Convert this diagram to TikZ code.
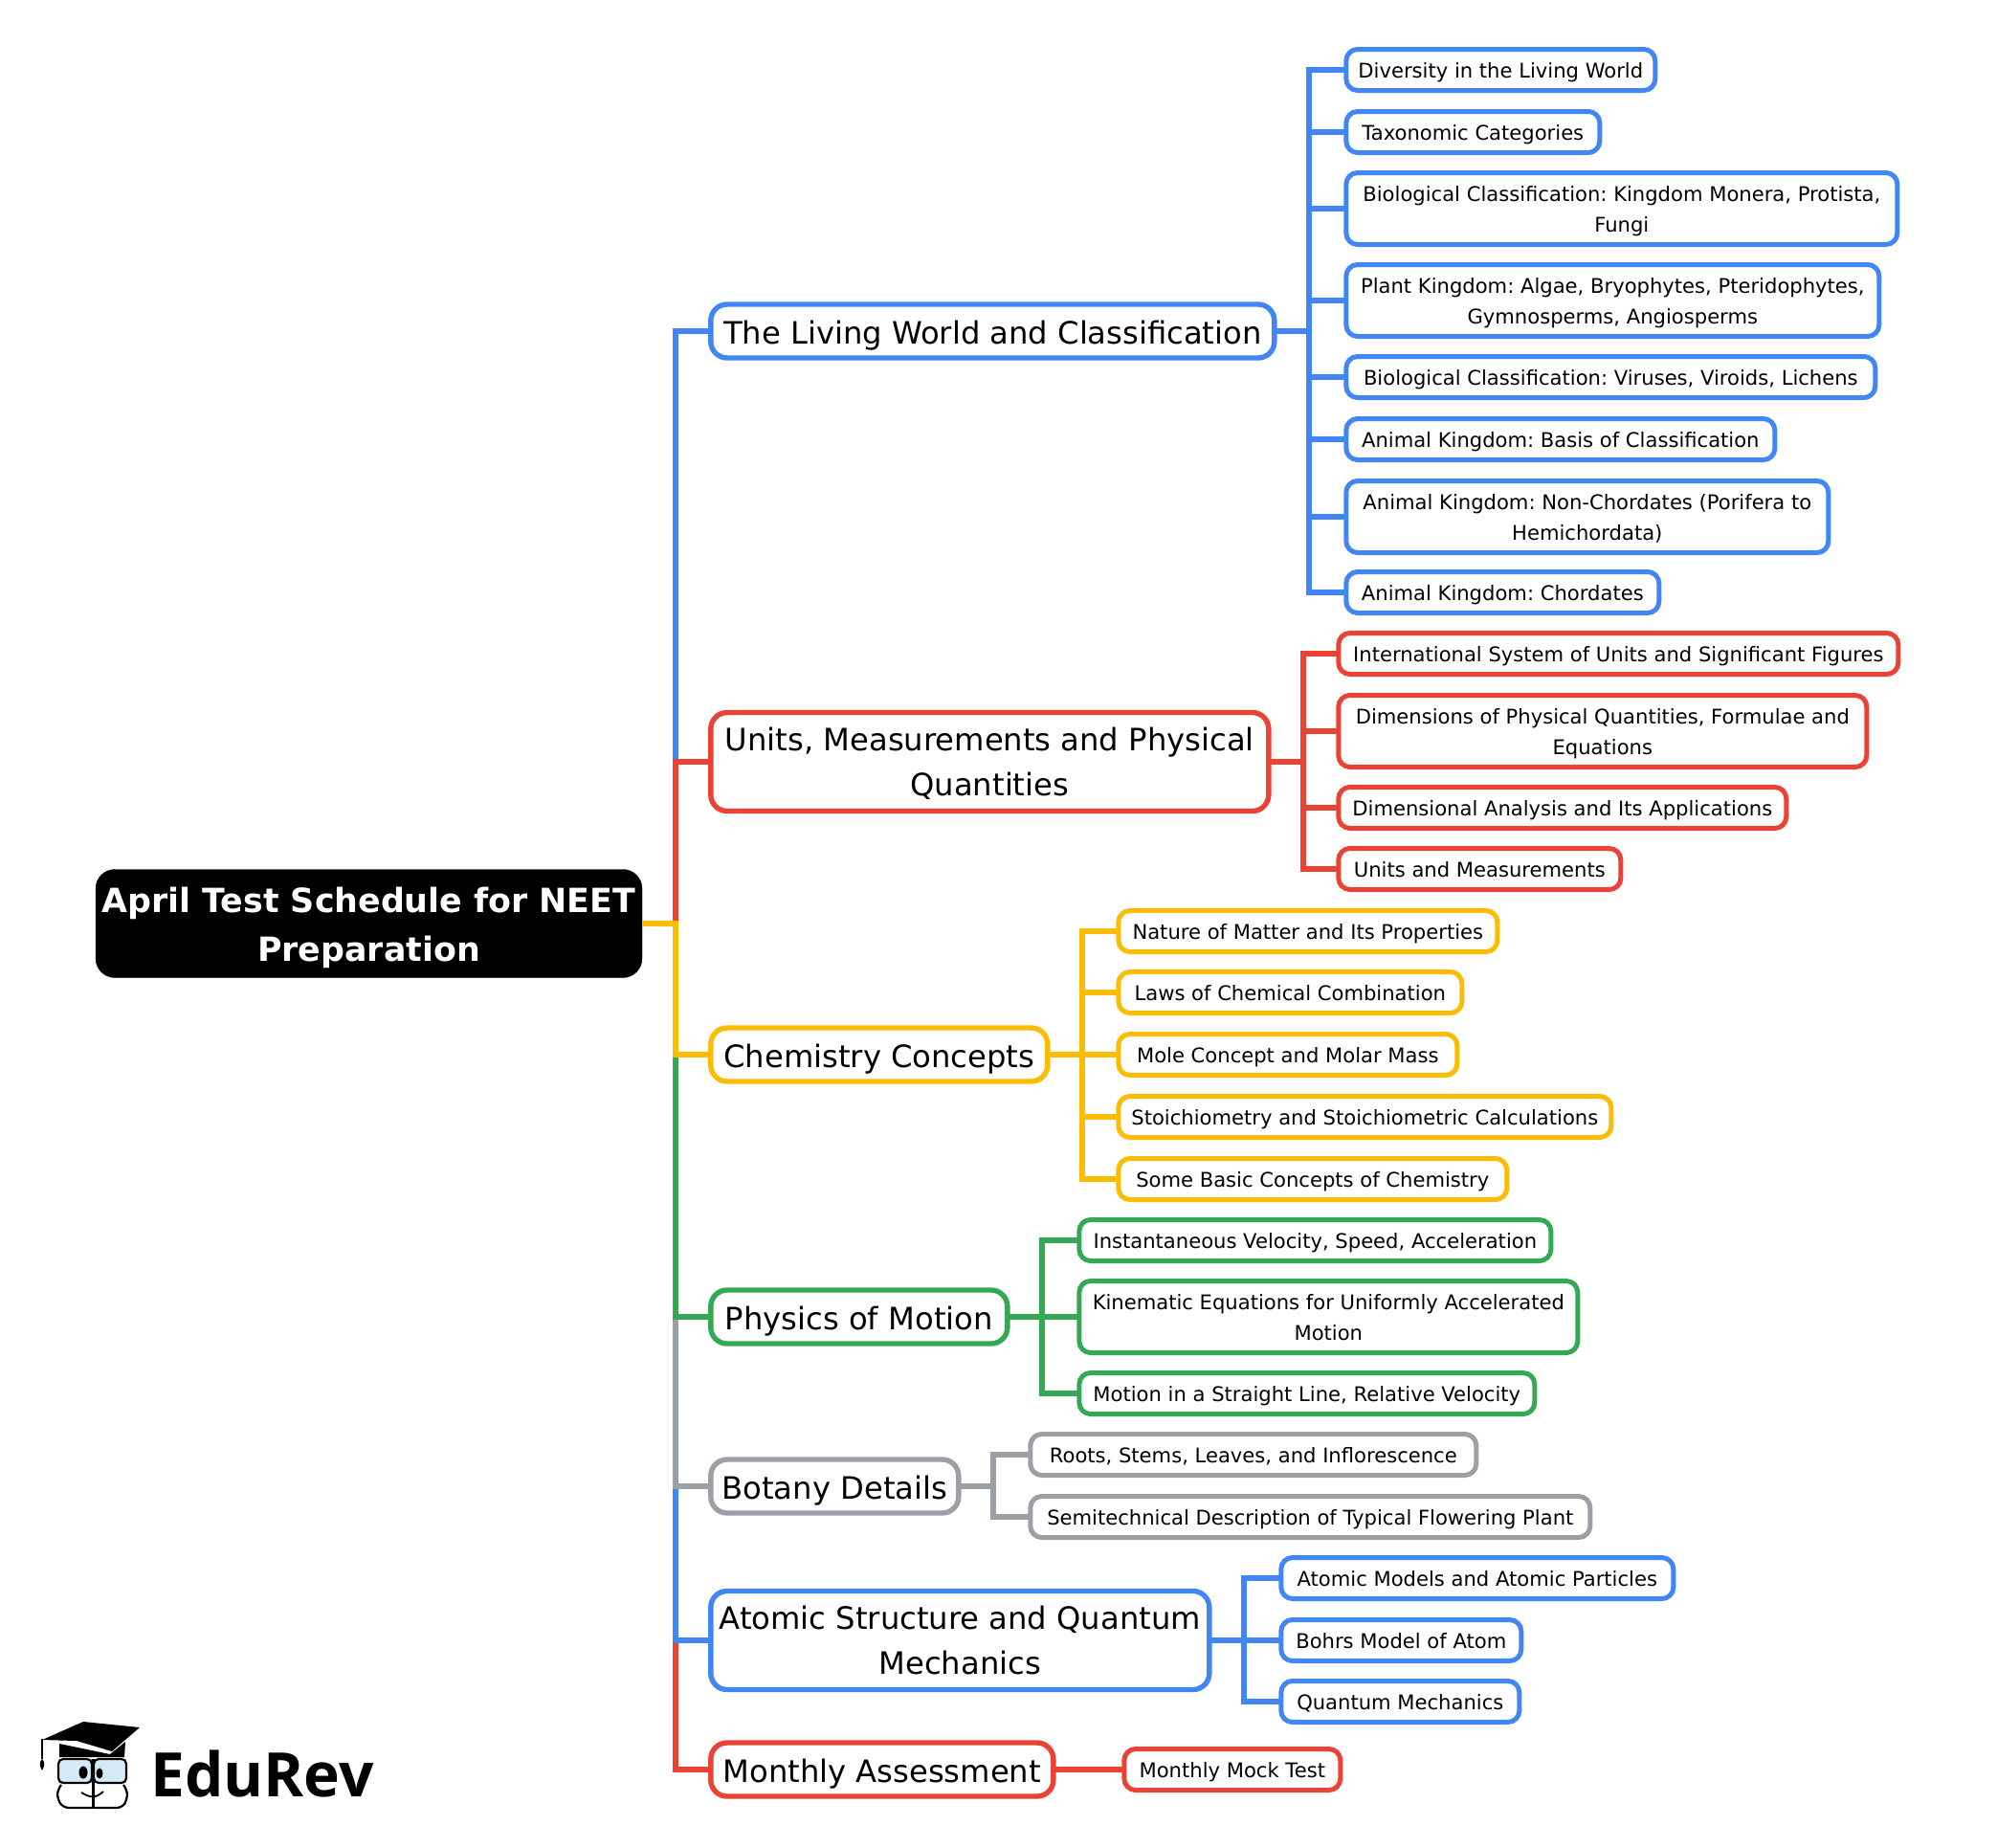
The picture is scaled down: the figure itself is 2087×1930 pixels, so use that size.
\documentclass[tikz,border=0pt]{standalone}
\usepackage{fontspec}
\setmainfont{DejaVu Sans}
\newfontfamily\logofont{Open Sans}
\usetikzlibrary{positioning}
\definecolor{mapblue}{HTML}{4285F4}
\definecolor{mapred}{HTML}{EA4335}
\definecolor{mapyellow}{HTML}{FBBC04}
\definecolor{mapgreen}{HTML}{34A853}
\definecolor{mapgray}{HTML}{9AA0A6}
\definecolor{lens}{HTML}{D5EAF7}
\tikzset{
	x=1pt, y=-1pt, % picture coordinates are the pixels of the page
	textrow/.style 2 args={execute at begin node={\rule[-#1]{0pt}{\dimexpr#1+#2\relax}}, execute at end node={\rule[-#1]{0pt}{\dimexpr#1+#2\relax}}}, % same baseline in every box
	tworow/.style={execute at begin node={\rule{0pt}{#1}}}, % height of a box with two rows
	rootbox/.style={draw=black, fill=black, text=white, rounded corners=20pt, minimum width=571pt, minimum height=113pt, inner sep=0pt, outer sep=0pt, align=center, anchor=west, textrow={13pt}{37.6pt}, tworow=91pt, font=\fontsize{34.8}{51}\selectfont\bfseries\frenchspacing},
	topic/.style={draw=#1, fill=white, line width=5.4pt, rounded corners=17pt, minimum height=56pt, inner sep=0pt, outer sep=0pt, xshift=0.8pt, align=center, anchor=west, textrow={10pt}{36.4pt}, font=\fontsize{32.2}{47}\selectfont\frenchspacing},
	leaf/.style={draw=#1, fill=white, line width=5pt, rounded corners=12pt, minimum height=43pt, inner sep=0pt, outer sep=0pt, xshift=0.8pt, align=center, anchor=west, textrow={8pt}{24.6pt}, font=\fontsize{21.1}{32}\selectfont\frenchspacing},
	link/.style={draw=#1, line width=5.4pt},
}
\begin{document}
\begin{tikzpicture}
	\useasboundingbox (0,0) rectangle (2087,1930);
	% root and topics
	\node[rootbox] at (100,965) (root) {April Test Schedule for NEET\\Preparation};
	\node[topic=mapblue, minimum width=589pt] at (742,346) (living) {The Living World and Classification};
	\node[topic=mapred, tworow=81pt, minimum width=583pt, minimum height=103pt] at (742,796) (units) {Units, Measurements and Physical\\Quantities};
	\node[topic=mapyellow, minimum width=352pt] at (742,1102) (chem) {Chemistry Concepts};
	\node[topic=mapgreen, minimum width=310pt] at (742,1376) (motion) {Physics of Motion};
	\node[topic=mapgray, minimum width=259pt] at (742,1553) (botany) {Botany Details};
	\node[topic=mapblue, tworow=81pt, minimum width=521pt, minimum height=103pt] at (742,1714) (atomic) {Atomic Structure and Quantum\\Mechanics};
	\node[topic=mapred, minimum width=358pt] at (742,1849) (monthly) {Monthly Assessment};
	% living world
	\node[leaf=mapblue, minimum width=323pt] at (1406,73) (living1) {Diversity in the Living World};
	\node[leaf=mapblue, minimum width=265pt] at (1406,138) (living2) {Taxonomic Categories};
	\node[leaf=mapblue, tworow=57pt, minimum width=576pt, minimum height=75pt] at (1406,218) (living3) {Biological Classification: Kingdom Monera, Protista,\\Fungi};
	\node[leaf=mapblue, tworow=57pt, minimum width=557pt, minimum height=75pt] at (1406,314) (living4) {Plant Kingdom: Algae, Bryophytes, Pteridophytes,\\Gymnosperms, Angiosperms};
	\node[leaf=mapblue, minimum width=553pt] at (1406,394) (living5) {Biological Classification: Viruses, Viroids, Lichens};
	\node[leaf=mapblue, minimum width=448pt] at (1406,459) (living6) {Animal Kingdom: Basis of Classification};
	\node[leaf=mapblue, tworow=57pt, minimum width=504pt, minimum height=75pt] at (1406,540) (living7) {Animal Kingdom: Non-Chordates (Porifera to\\Hemichordata)};
	\node[leaf=mapblue, minimum width=327pt] at (1406,619) (living8) {Animal Kingdom: Chordates};
	% units
	\node[leaf=mapred, minimum width=585pt] at (1398,683) (units1) {International System of Units and Significant Figures};
	\node[leaf=mapred, tworow=57pt, minimum width=552pt, minimum height=75pt] at (1398,764) (units2) {Dimensions of Physical Quantities, Formulae and\\Equations};
	\node[leaf=mapred, minimum width=468pt] at (1398,844) (units3) {Dimensional Analysis and Its Applications};
	\node[leaf=mapred, minimum width=295pt] at (1398,908) (units4) {Units and Measurements};
	% chemistry
	\node[leaf=mapyellow, minimum width=396pt] at (1168,973) (chem1) {Nature of Matter and Its Properties};
	\node[leaf=mapyellow, minimum width=359pt] at (1168,1037) (chem2) {Laws of Chemical Combination};
	\node[leaf=mapyellow, minimum width=354pt] at (1168,1102) (chem3) {Mole Concept and Molar Mass};
	\node[leaf=mapyellow, minimum width=515pt] at (1168,1167) (chem4) {Stoichiometry and Stoichiometric Calculations};
	\node[leaf=mapyellow, minimum width=406pt] at (1168,1232) (chem5) {Some Basic Concepts of Chemistry};
	% motion
	\node[leaf=mapgreen, minimum width=493pt] at (1127,1296) (motion1) {Instantaneous Velocity, Speed, Acceleration};
	\node[leaf=mapgreen, tworow=57pt, minimum width=521pt, minimum height=75pt] at (1127,1376) (motion2) {Kinematic Equations for Uniformly Accelerated\\Motion};
	\node[leaf=mapgreen, minimum width=476pt] at (1127,1456) (motion3) {Motion in a Straight Line, Relative Velocity};
	% botany
	\node[leaf=mapgray, minimum width=466pt] at (1076,1520) (botany1) {Roots, Stems, Leaves, and Inflorescence};
	\node[leaf=mapgray, minimum width=585pt] at (1076,1585) (botany2) {Semitechnical Description of Typical Flowering Plant};
	% atomic
	\node[leaf=mapblue, minimum width=410pt] at (1338,1649) (atomic1) {Atomic Models and Atomic Particles};
	\node[leaf=mapblue, minimum width=251pt] at (1338,1714) (atomic2) {Bohrs Model of Atom};
	\node[leaf=mapblue, minimum width=249pt] at (1338,1778) (atomic3) {Quantum Mechanics};
	% monthly
	\node[leaf=mapred, minimum width=226pt] at (1174,1849) (monthly1) {Monthly Mock Test};
	% trunk, the yellow one comes last as it lies on top
	\foreach \topicname/\col in {living/mapblue, units/mapred, monthly/mapred, atomic/mapblue, botany/mapgray, motion/mapgreen, chem/mapyellow}
		\draw[link=\col] (root.east) -- ++(35,0) |- (\topicname.west);
	% branches
	\foreach \n in {1,...,8}
		\draw[link=mapblue] (living.east) -- ++(36,0) |- (living\n.west);
	\foreach \n in {1,...,4}
		\draw[link=mapred] (units.east) -- ++(36,0) |- (units\n.west);
	\foreach \n in {1,...,5}
		\draw[link=mapyellow] (chem.east) -- ++(36,0) |- (chem\n.west);
	\foreach \n in {1,...,3}
		\draw[link=mapgreen] (motion.east) -- ++(36,0) |- (motion\n.west);
	\foreach \n in {1,2}
		\draw[link=mapgray] (botany.east) -- ++(36,0) |- (botany\n.west);
	\foreach \n in {1,...,3}
		\draw[link=mapblue] (atomic.east) -- ++(36,0) |- (atomic\n.west);
	\draw[link=mapred] (monthly.east) -- (monthly1.west);
	% logo
	\fill[black] (44,1818) -- (87,1799) -- (146,1805) -- (117,1830) -- (80,1819) -- cycle;
	\fill[black] (62,1822) -- (115,1833) -- (131,1820) -- (130,1836) -- (62,1836) -- cycle;
	\draw[black, line width=1.3pt] (44,1817) -- (44,1838);
	\fill[black] (44,1838) .. controls (48,1842) and (46,1846) .. (44,1850) .. controls (42,1846) and (40,1842) .. (44,1838) -- cycle;
	\draw[black, line width=2.2pt, fill=lens, rounded corners=5pt] (61,1838) rectangle (96,1863);
	\draw[black, line width=2.2pt, fill=lens, rounded corners=5pt] (98,1838) rectangle (132,1863);
	\draw[black, line width=2.2pt, rounded corners=6pt] (96,1889) -- (66,1889) -- (60,1880) -- (60,1870) -- (64,1865);
	\draw[black, line width=2.2pt, rounded corners=6pt] (98,1889) -- (128,1889) -- (133,1880) -- (133,1870) -- (129,1865);
	\draw[black, line width=3pt] (97,1838) -- (97,1890);
	\fill[black] (87,1852) ellipse [x radius=4.5pt, y radius=6.5pt];
	\fill[black] (104,1853) ellipse [x radius=3.5pt, y radius=5.5pt];
	\draw[black, line width=1.8pt] (85,1873) .. controls (95,1879) and (100,1879) .. (108,1872);
	\node[anchor=base west, inner sep=0pt, font=\logofont\bfseries\fontsize{64}{65}\selectfont] at (157,1877) (logotext) {EduRev};
\end{tikzpicture}
\end{document}
